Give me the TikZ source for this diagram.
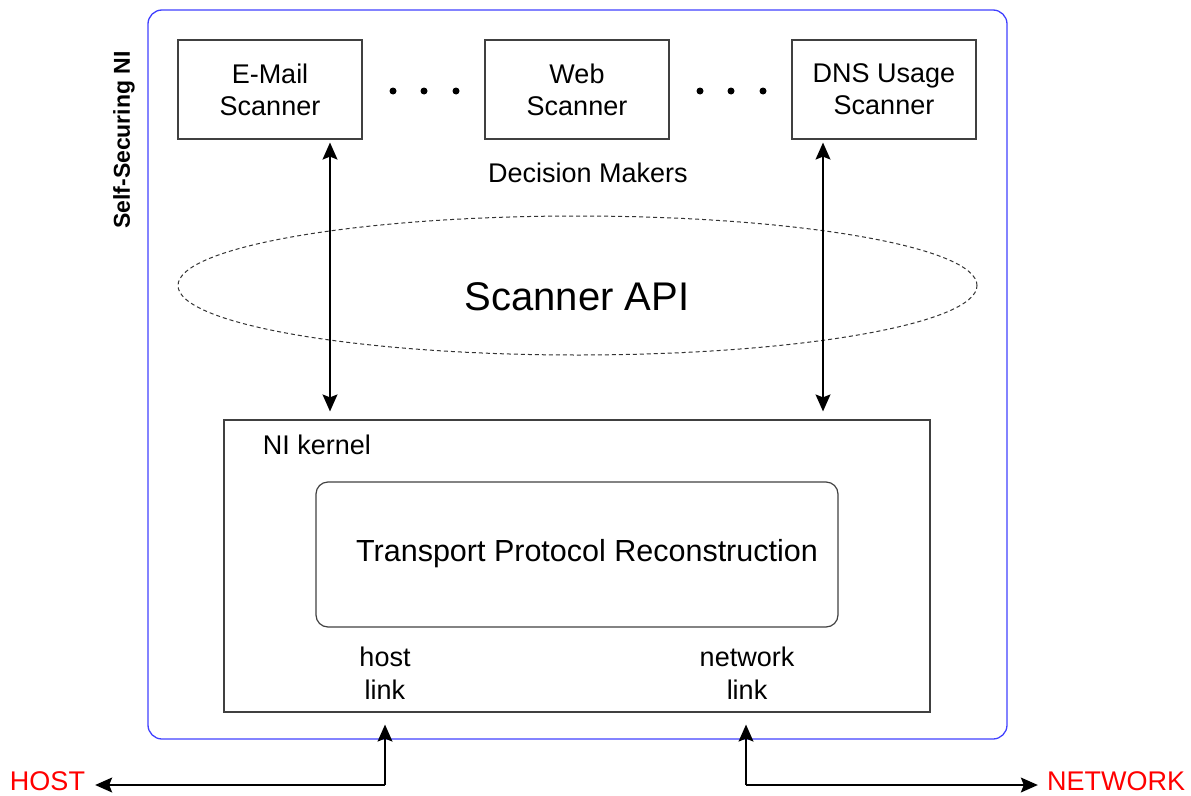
\documentclass[tikz,border=0pt]{standalone}
\usepackage{fontspec}
\setmainfont{Liberation Sans}
\usetikzlibrary{arrows.meta,shapes.geometric}
\begin{document}
\begin{tikzpicture}[x=1pt,y=-1pt,
 box/.style={draw=black!75,line width=1.2pt,minimum width=184pt,minimum height=99pt,align=center,font=\fontsize{27}{32}\selectfont,inner sep=0pt},
 lbl/.style={font=\fontsize{27}{33}\selectfont,align=center,inner sep=0pt},
 dotnode/.style={circle,fill=black,minimum size=7pt,inner sep=0pt},
 arr/.style={line width=1.2pt,-{Stealth[length=17pt,width=15pt,inset=3pt]}},
 biarr/.style={line width=1.2pt,{Stealth[length=17pt,width=15pt,inset=3pt]}-{Stealth[length=17pt,width=15pt,inset=3pt]}},
]
\useasboundingbox (0,0) rectangle (1191,795);
% outer
\node[draw=blue!75,rounded corners=14pt,line width=1.3pt,minimum width=859pt,minimum height=729pt,inner sep=0pt] (outer) at (577.5,374.5) {};
\node[rotate=90,font=\bfseries\fontsize{23}{28}\selectfont,inner sep=0pt] (ssni) at (124,140) {Self-Securing NI};
% scanners
\node[box] (email) at (270,89.5) {E-Mail\\Scanner};
\node[box] (web) at (577,89.5) {Web\\Scanner};
\node[box] (dns) at (884,89.5) {DNS Usage\\Scanner};
\node[dotnode] (d1) at (393,91) {};
\node[dotnode] (d2) at (424,91) {};
\node[dotnode] (d3) at (456,91) {};
\node[dotnode] (d4) at (700,91) {};
\node[dotnode] (d5) at (731,91) {};
\node[dotnode] (d6) at (763,91) {};
\node[lbl] (dm) at (588,173) {Decision Makers};
% API
\node[ellipse,draw=black!80,line width=1pt,dash pattern=on 4pt off 3pt,minimum width=799pt,minimum height=139pt,inner sep=0pt] (api) at (577.5,285.5) {};
\node[lbl,font=\fontsize{40}{48}\selectfont] (apilbl) at (577,297) {Scanner API};
% kernel
\node[draw=black!75,line width=1.2pt,minimum width=706pt,minimum height=292pt,inner sep=0pt] (kernel) at (577,566) {};
\node[lbl] (klbl) at (317,445) {NI kernel};
\node[draw=black!75,line width=1.2pt,rounded corners=12pt,minimum width=522pt,minimum height=145pt,inner sep=0pt] (tpr) at (577,554.5) {};
\node[lbl,font=\fontsize{30.5}{36}\selectfont] (tprlbl) at (587,554) {Transport Protocol Reconstruction};
\node[lbl] (hl) at (385,673) {host\\link};
\node[lbl] (nl) at (747,673) {network\\link};
% vertical arrows
\draw[biarr,shorten <=3pt,shorten >=8pt] ([xshift=60pt]email.south) -- ([xshift=60pt]email.south |- kernel.north);
\draw[biarr,shorten <=3pt,shorten >=8pt] ([xshift=-61pt]dns.south) -- ([xshift=-61pt]dns.south |- kernel.north);
% bottom
\node[lbl,text=red] (host) at (47.5,781) {HOST};
\node[lbl,text=red] (net) at (1116,781) {NETWORK};
\coordinate (hc) at (385,785);
\coordinate (nc) at (746,785);
\draw[arr,shorten >=10pt] (hc) -- (hc -| host.east);
\draw[arr,shorten >=12pt] (hc) -- (hc |- kernel.south);
\draw[arr,shorten >=9pt] (nc) -- (nc -| net.west);
\draw[arr,shorten >=12pt] (nc) -- (nc |- kernel.south);
\end{tikzpicture}
\end{document}
